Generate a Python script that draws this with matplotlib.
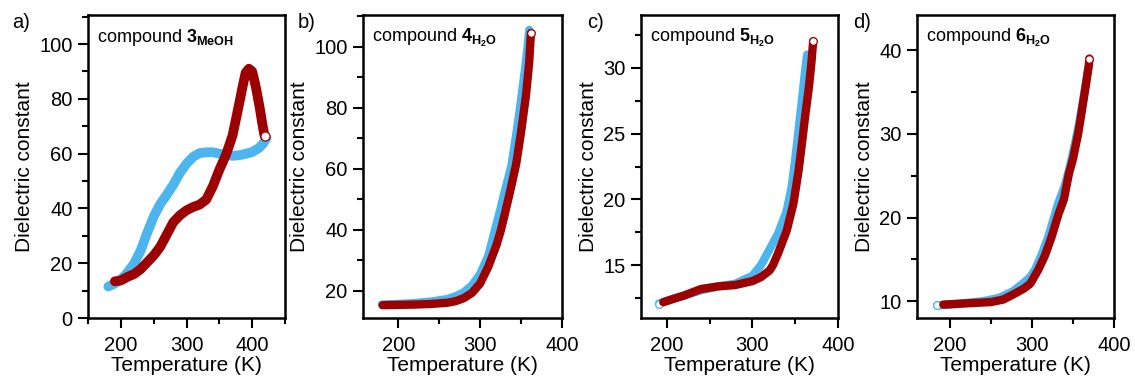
import matplotlib
matplotlib.use('Agg')
import matplotlib.pyplot as plt
from matplotlib.ticker import MultipleLocator

plt.rcParams['font.family'] = ['Liberation Sans', 'DejaVu Sans']
plt.rcParams['mathtext.fontset'] = 'custom'
plt.rcParams['mathtext.rm'] = 'Liberation Sans'
plt.rcParams['mathtext.bf'] = 'Liberation Sans:bold'

BLAU = '#4db5ee'
ROT = '#9c0000'

T_a_blau = [181, 190, 200, 210, 220, 230, 240, 250, 260, 270, 280, 290, 300, 310, 320, 330, 340,
            350, 360, 370, 380, 390, 400, 410, 416, 422]
eps_a_blau = [11.5, 12.5, 14.0, 16.5, 19.8, 24.5, 31.0, 37.0, 41.6, 45.0, 48.7, 53.0, 56.3, 58.8,
              60.2, 60.5, 60.5, 60.0, 59.5, 59.2, 59.4, 59.9, 60.6, 62.0, 63.5, 65.7]
T_a_rot = [191, 200, 210, 220, 230, 240, 250, 260, 270, 280, 290, 300, 310, 320, 330, 340, 350,
           360, 370, 380, 385, 390, 395, 400, 405, 409, 412, 415, 418, 419]
eps_a_rot = [13.4, 13.7, 15.0, 16.0, 17.8, 20.3, 22.8, 26.0, 30.5, 35.0, 37.5, 39.3, 40.5, 41.4,
             43.2, 48.0, 54.1, 59.5, 66.5, 78.0, 84.0, 89.5, 91.0, 90.0, 85.0, 80.0, 76.0, 71.5,
             67.5, 66.5]

T_b_blau = [180, 200, 220, 240, 260, 270, 280, 290, 300, 310, 317, 325, 330, 338, 344, 350, 355,
            358, 360]
eps_b_blau = [15.5, 15.7, 16.0, 16.5, 17.3, 18.2, 19.5, 21.8, 25.5, 31.5, 38.8, 47.0, 52.5, 60.7,
              71.0, 82.5, 93.0, 100.0, 105.5]
T_b_rot = [181, 200, 220, 240, 260, 270, 280, 290, 300, 310, 320, 325, 330, 337, 344, 350, 356,
           360, 362]
eps_b_rot = [15.3, 15.4, 15.5, 15.7, 16.1, 16.6, 17.6, 19.3, 22.4, 27.9, 35.0, 39.5, 45.0, 53.0,
             61.5, 72.0, 84.0, 95.0, 104.5]

T_c_blau = [191, 200, 220, 240, 260, 280, 290, 300, 310, 320, 330, 340, 346, 350, 354, 358, 362,
            364]
eps_c_blau = [12.1, 12.3, 12.7, 13.1, 13.4, 13.6, 13.9, 14.2, 15.0, 16.2, 17.4, 19.1, 21.0, 23.0,
              25.3, 27.6, 30.0, 31.0]
T_c_rot = [196, 210, 220, 240, 260, 280, 300, 310, 320, 324, 330, 340, 348, 354, 358, 362, 366,
           369, 371]
eps_c_rot = [12.2, 12.5, 12.7, 13.2, 13.4, 13.5, 13.8, 14.1, 14.6, 15.0, 15.9, 17.6, 19.7, 22.2,
             24.3, 26.5, 28.5, 30.4, 32.0]

T_d_blau = [184.5, 200, 220, 240, 260, 277, 290, 298, 304, 312, 320, 332, 340, 346, 352, 358, 364,
            368, 370]
eps_d_blau = [9.5, 9.6, 9.8, 10.0, 10.4, 11.2, 12.2, 12.9, 13.8, 15.6, 17.7, 21.7, 23.8, 26.0,
              28.6, 31.5, 35.0, 37.5, 38.3]
T_d_rot = [192, 210, 230, 250, 265, 277, 290, 298, 308, 316, 324, 332, 339, 345, 350, 356.5, 362,
           366, 369, 370]
eps_d_rot = [9.6, 9.7, 9.8, 9.9, 10.2, 10.8, 11.5, 12.1, 13.8, 15.5, 17.7, 20.3, 22.2, 25.2, 27.0,
             30.1, 33.5, 36.0, 38.0, 39.0]

buchstaben = ['a)', 'b)', 'c)', 'd)']
titel = [r'compound $\mathbf{3}_{\mathbf{MeOH}}$', r'compound $\mathbf{4}_{\mathbf{H_2O}}$',
         r'compound $\mathbf{5}_{\mathbf{H_2O}}$', r'compound $\mathbf{6}_{\mathbf{H_2O}}$']
x_grenzen = [(150, 450), (157, 400), (170, 400), (160, 400)]
y_grenzen = [(0, 110.6), (11.1, 110.4), (11.0, 34.0), (8.0, 44.2)]
y_haupt = [20, 20, 5, 10]

reihen = [
    (T_a_blau, eps_a_blau, T_a_rot, eps_a_rot),
    (T_b_blau, eps_b_blau, T_b_rot, eps_b_rot),
    (T_c_blau, eps_c_blau, T_c_rot, eps_c_rot),
    (T_d_blau, eps_d_blau, T_d_rot, eps_d_rot),
]

# Achsenpositionen in Pixeln bei 1135x380
links_px = [88, 363, 641, 917]
breite_px = [197, 199, 197, 197]
buchstabe_x_px = [12, 298, 587, 853]
unten, hoehe = 62 / 380, 303 / 380

fig = plt.figure(figsize=(11.35, 3.8), dpi=100)

for i in range(4):
    ax = fig.add_axes([links_px[i] / 1135, unten, breite_px[i] / 1135, hoehe])
    Tb, eb, Tr, er = reihen[i]
    band = 7.0 if i == 0 else 6.0

    ax.plot(Tb, eb, '-', color=BLAU, lw=band, solid_capstyle='round', solid_joinstyle='round')
    if i >= 2:
        ax.plot(Tb[0], eb[0], 'o', ms=band - 0.5, mfc='white', mec=BLAU, mew=0.9)
    ax.plot(Tr, er, '-', color=ROT, lw=band, solid_capstyle='round', solid_joinstyle='round')
    ax.plot(Tr[-1], er[-1], 'o', ms=band - 0.5, mfc='white', mec=ROT, mew=0.9)

    ax.set_xlim(*x_grenzen[i])
    ax.set_ylim(*y_grenzen[i])
    ax.xaxis.set_major_locator(MultipleLocator(100))
    ax.xaxis.set_minor_locator(MultipleLocator(50))
    ax.yaxis.set_major_locator(MultipleLocator(y_haupt[i]))
    ax.yaxis.set_minor_locator(MultipleLocator(y_haupt[i] / 2))
    ax.tick_params(which='major', direction='out', length=7, width=1.5, labelsize=14.5, pad=4)
    ax.tick_params(which='minor', direction='out', length=4, width=1.5)
    ax.tick_params(axis='x', which='major', pad=6)
    for sp in ax.spines.values():
        sp.set_linewidth(1.8)

    ax.set_xlabel('Temperature (K)', fontsize=15, labelpad=1)
    ax.set_ylabel('Dielectric constant', fontsize=15, labelpad=4)
    ax.text(0.046, 0.91, titel[i], transform=ax.transAxes, fontsize=13, va='baseline')
    fig.text(buchstabe_x_px[i] / 1135, 1 - 28 / 380, buchstaben[i], fontsize=14.5, va='baseline')

fig.savefig('out.png', dpi=100)
